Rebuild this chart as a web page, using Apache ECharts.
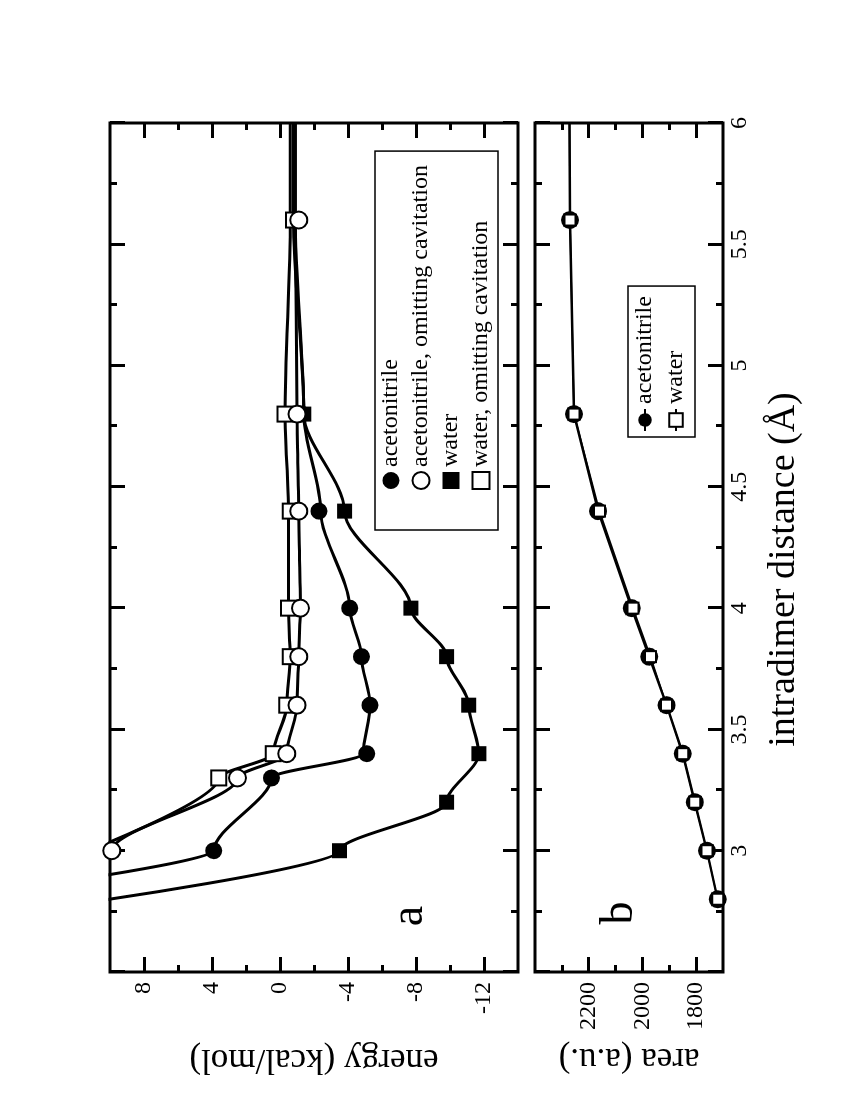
<!DOCTYPE html>
<html>
<head>
<meta charset="utf-8">
<script src="https://cdn.jsdelivr.net/npm/echarts@6/dist/echarts.min.js"></script>
<style>
html, body { margin: 0; padding: 0; background: #fff; overflow: hidden; }
/* the figure is drawn landscape and turned a quarter turn, like the scanned page */
#wrap { position: absolute; left: 0; top: 1100px; width: 1100px; height: 850px;
        transform-origin: 0 0; transform: rotate(-90deg); }
#chart { width: 1100px; height: 850px; }
</style>
</head>
<body>
<div id="wrap"><div id="chart"></div></div>
<script>
const FONT = "'Liberation Serif', 'Times New Roman', serif"

// panel a: energies (kcal/mol) at the computed distances
const distAcn = [3.0, 3.3, 3.4, 3.6, 3.8, 4.0, 4.4, 4.8, 5.6]
const distWat = [3.0, 3.2, 3.4, 3.6, 3.8, 4.0, 4.4, 4.8, 5.6]
const distWatNoCav = [3.0, 3.3, 3.4, 3.6, 3.8, 4.0, 4.4, 4.8, 5.6]
const acnTotal = [3.9, 0.5, -5.1, -5.3, -4.8, -4.1, -2.3, -1.3, -0.9]
const acnNoCav = [9.9, 2.5, -0.4, -1.0, -1.1, -1.2, -1.1, -1.0, -1.1]
const watTotal = [-3.5, -9.8, -11.7, -11.1, -9.8, -7.7, -3.8, -1.4, -0.75]
const watNoCav = [12, 3.6, 0.4, -0.4, -0.6, -0.5, -0.6, -0.3, -0.8]

// fitted curves (they run past the frame)
const acnTotalCurveD = [2.88, 3.0, 3.3, 3.4, 3.6, 3.8, 4.0, 4.4, 4.8, 5.6, 6.0]
const acnTotalCurveE = [12, 3.9, 0.5, -4.9, -5.3, -4.8, -4.1, -2.4, -1.4, -0.9, -0.9]
const acnNoCavCurveD = [2.97, 3.0, 3.3, 3.4, 3.6, 3.8, 4.0, 4.4, 4.8, 5.6, 6.0]
const acnNoCavCurveE = [12, 9.9, 2.5, -0.4, -1.0, -1.1, -1.2, -1.1, -1.0, -0.9, -0.9]
const watTotalCurveD = [2.78, 3.0, 3.2, 3.4, 3.6, 3.8, 4.0, 4.4, 4.8, 5.6, 6.0]
const watTotalCurveE = [12, -3.5, -9.8, -11.7, -11.1, -9.8, -7.7, -3.8, -1.4, -0.8, -0.8]
const watNoCavCurveD = [2.98, 3.3, 3.4, 3.6, 3.8, 4.0, 4.4, 4.8, 5.6, 6.0]
const watNoCavCurveE = [12, 3.6, 0.4, -0.4, -0.6, -0.5, -0.5, -0.3, -0.6, -0.6]

// panel b: surface area (a.u.)
const distB = [2.8, 3.0, 3.2, 3.4, 3.6, 3.8, 4.0, 4.4, 4.8, 5.6, 6.0]
const acnArea = [1720, 1760, 1805, 1850, 1910, 1975, 2040, 2165, 2255, 2270, 2272]
const watArea = [1720, 1760, 1805, 1850, 1910, 1970, 2035, 2160, 2255, 2270, 2272]

// axis ticks
const energyMajor = [-12, -8, -4, 0, 4, 8]
const energyMinor = [-10, -6, -2, 2, 6]
const areaMajor = [1800, 2000, 2200]
const areaMinor = [1900, 2100, 2300]

const pairs = (xs, ys) => xs.map((x, i) => [x, ys[i]])

const labelFont = { fontFamily: FONT, fontSize: 24, color: "#000" }

function distAxis(grid, position, labels) {
  return {
    type: "value", gridIndex: grid, position: position,
    min: 2.5, max: 6, interval: 0.5,
    axisLine: { show: false, onZero: false },
    axisTick: { show: true, inside: true, length: 15, lineStyle: { color: "#000", width: 3 } },
    minorTick: { show: true, splitNumber: 2, length: 7, lineStyle: { color: "#000", width: 3 } },
    splitLine: { show: false },
    axisLabel: {
      show: labels, margin: 5, ...labelFont,
      showMinLabel: false, showMaxLabel: true,
      formatter: v => (v === 2.5 ? "" : String(v))
    },
    name: labels ? "intradimer distance (Å)" : "",
    nameLocation: "middle", nameGap: 42,
    nameTextStyle: { fontFamily: FONT, fontSize: 38, color: "#000", padding: [0, 44, 0, 0] }
  }
}

function valueAxes(grid, min, max, major, minor, name, nameGap) {
  const out = []
  for (const pos of ["left", "right"]) {
    out.push({
      type: "value", gridIndex: grid, position: pos, min: min, max: max,
      axisLine: { show: false, onZero: false },
      splitLine: { show: false },
      axisTick: { show: true, inside: true, length: 15, customValues: major,
        lineStyle: { color: "#000", width: 3 } },
      axisLabel: { show: pos === "left", customValues: major, margin: 10, ...labelFont,
        formatter: v => String(v) },
      name: pos === "left" ? name : "",
      nameLocation: "middle", nameGap: nameGap,
      nameTextStyle: { fontFamily: FONT, fontSize: 35, color: "#000" }
    })
    out.push({
      type: "value", gridIndex: grid, position: pos, min: min, max: max,
      axisLine: { show: false, onZero: false },
      splitLine: { show: false },
      axisTick: { show: true, inside: true, length: 7, customValues: minor,
        lineStyle: { color: "#000", width: 3 } },
      axisLabel: { show: false }
    })
  }
  return out
}

const filled = { color: "#000", opacity: 1 }
const hollow = { color: "#fff", borderColor: "#000", borderWidth: 2, opacity: 1 }

function curve(d, e) {
  return {
    type: "line", xAxisIndex: 0, yAxisIndex: 0,
    data: pairs(d, e), smooth: 0.3, smoothMonotone: "x", showSymbol: false,
    lineStyle: { color: "#000", width: 3 }, silent: true, z: 2
  }
}

function marks(name, d, e, symbol, style, z) {
  return {
    name: name, type: "scatter", xAxisIndex: 0, yAxisIndex: 0,
    data: pairs(d, e), symbol: symbol, symbolSize: symbol === "circle" ? 17 : 15,
    itemStyle: style, z: z
  }
}

const chart = echarts.init(document.getElementById("chart"))
chart.setOption({
  animation: false,
  backgroundColor: "#fff",
  grid: [
    { left: 128, top: 110, width: 849, height: 408, show: true, borderColor: "#000", borderWidth: 3 },
    { left: 128, top: 535, width: 849, height: 188, show: true, borderColor: "#000", borderWidth: 3 }
  ],
  xAxis: [distAxis(0, "bottom", false), distAxis(0, "top", false),
          distAxis(1, "bottom", true), distAxis(1, "top", false)],
  yAxis: [...valueAxes(0, -14, 10, energyMajor, energyMinor, "energy (kcal/mol)", 70),
          ...valueAxes(1, 1700, 2400, areaMajor, areaMinor, "area (a.u.)", 62)],
  legend: [
    {
      orient: "vertical", left: 570, top: 375, padding: [4, 14, 5, 40],
      borderColor: "#000", borderWidth: 1.5, itemWidth: 17, itemHeight: 17, itemGap: 6,
      selectedMode: false,
      textStyle: { ...labelFont, lineHeight: 20 },
      data: ["acetonitrile", "acetonitrile, omitting cavitation", "water", "water, omitting cavitation"]
    },
    {
      orient: "vertical", left: 663, top: 628, padding: [5, 10, 7, 5],
      borderColor: "#000", borderWidth: 1.5, itemWidth: 22, itemHeight: 17, itemGap: 7,
      selectedMode: false,
      textStyle: { ...labelFont, lineHeight: 20 },
      formatter: n => n.replace(/^b:/, ""),
      data: ["b:acetonitrile", "b:water"]
    }
  ],
  graphic: [
    { type: "text", x: 184, y: 410, style: { text: "a", font: "46px " + FONT, fill: "#000", textAlign: "center", textVerticalAlign: "middle" } },
    { type: "text", x: 187, y: 620, style: { text: "b", font: "46px " + FONT, fill: "#000", textAlign: "center", textVerticalAlign: "middle" } }
  ],
  series: [
    curve(acnTotalCurveD, acnTotalCurveE),
    curve(acnNoCavCurveD, acnNoCavCurveE),
    curve(watTotalCurveD, watTotalCurveE),
    curve(watNoCavCurveD, watNoCavCurveE),
    marks("acetonitrile", distAcn, acnTotal, "circle", filled, 6),
    marks("acetonitrile, omitting cavitation", distAcn, acnNoCav, "circle", hollow, 8),
    marks("water", distWat, watTotal, "rect", filled, 5),
    marks("water, omitting cavitation", distWatNoCav, watNoCav, "rect", hollow, 7),
    {
      name: "b:acetonitrile", type: "line", xAxisIndex: 2, yAxisIndex: 4,
      data: pairs(distB, acnArea).map((p, i) => i === distB.length - 1 ? { value: p, symbol: "none" } : p),
      symbol: "circle", symbolSize: 18, itemStyle: filled,
      lineStyle: { color: "#000", width: 2.5 }, z: 3
    },
    {
      name: "b:water", type: "line", xAxisIndex: 2, yAxisIndex: 4,
      data: pairs(distB, watArea).map((p, i) => i === distB.length - 1 ? { value: p, symbol: "none" } : p),
      symbol: "rect", symbolSize: 11, itemStyle: hollow,
      lineStyle: { color: "#000", width: 1.5 }, z: 4
    }
  ]
})
</script>
</body>
</html>
